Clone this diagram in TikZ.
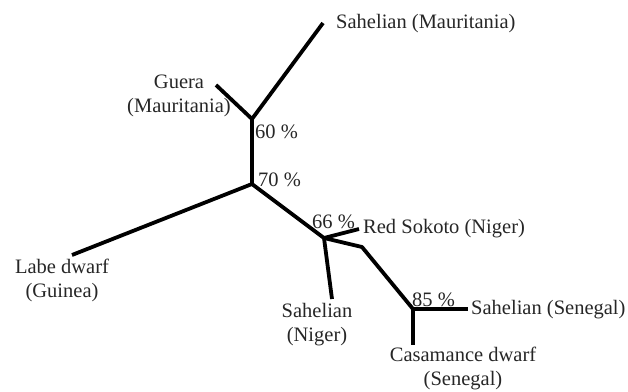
\documentclass[tikz,border=0pt]{standalone}
\usepackage{fontspec}
\setmainfont{Liberation Serif}
\begin{document}
\begin{tikzpicture}[x=1pt,y=-1pt,
  branch/.style={line width=3.8pt,line join=round,black},
  lbl/.style={inner sep=0pt,font=\fontsize{20.5}{24}\selectfont,text=black!85},
  pct/.style={inner sep=0pt,font=\fontsize{20.5}{24}\selectfont,text=black!85,anchor=west}]
\useasboundingbox (0,0) rectangle (628,391);
% junctions
\coordinate (nA) at (252,119);
\coordinate (nB) at (252,184);
\coordinate (nC) at (324,238);
\coordinate (bend) at (362,247);
\coordinate (nD) at (413,309);
% tips
\coordinate (tSM) at (323,23);
\coordinate (tG) at (216,85);
\coordinate (tL) at (72,255);
\coordinate (tR) at (359,229);
\coordinate (tSN) at (332,299);
\coordinate (tSS) at (468,309);
\coordinate (tC) at (413,345);
% branches
\draw[branch] (tG) -- (nA);
\draw[branch] (tSM) -- (nA);
\draw[branch] (nA) -- (nB);
\draw[branch] (tL) -- (nB);
\draw[branch] (nB) -- (nC);
\draw[branch] (tR) -- (nC);
\draw[branch] (nC) -- (tSN);
\draw[branch] (nC) -- (bend) -- (nD);
\draw[branch] (nD) -- (tSS);
\draw[branch] (nD) -- (tC);
% labels
\node[lbl,anchor=west] (lSM) at (336,24) {Sahelian (Mauritania)};
\node[lbl,align=center] (lG) at (179,96) {Guera\\(Mauritania)};
\node[lbl,align=center] (lL) at (62,280) {Labe dwarf\\(Guinea)};
\node[lbl,anchor=west] (lR) at (363,229) {Red Sokoto (Niger)};
\node[lbl,align=center] (lSN) at (317,325) {Sahelian\\(Niger)};
\node[lbl,anchor=west] (lSS) at (471,310) {Sahelian (Senegal)};
\node[lbl,align=center] (lC) at (463,368) {Casamance dwarf\\(Senegal)};
% percentages
\node[pct] (p60) at (255,132) {60 \%};
\node[pct] (p70) at (258,180) {70 \%};
\node[pct] (p66) at (312,222) {66 \%};
\node[pct] (p85) at (412,300) {85 \%};
\end{tikzpicture}
\end{document}
